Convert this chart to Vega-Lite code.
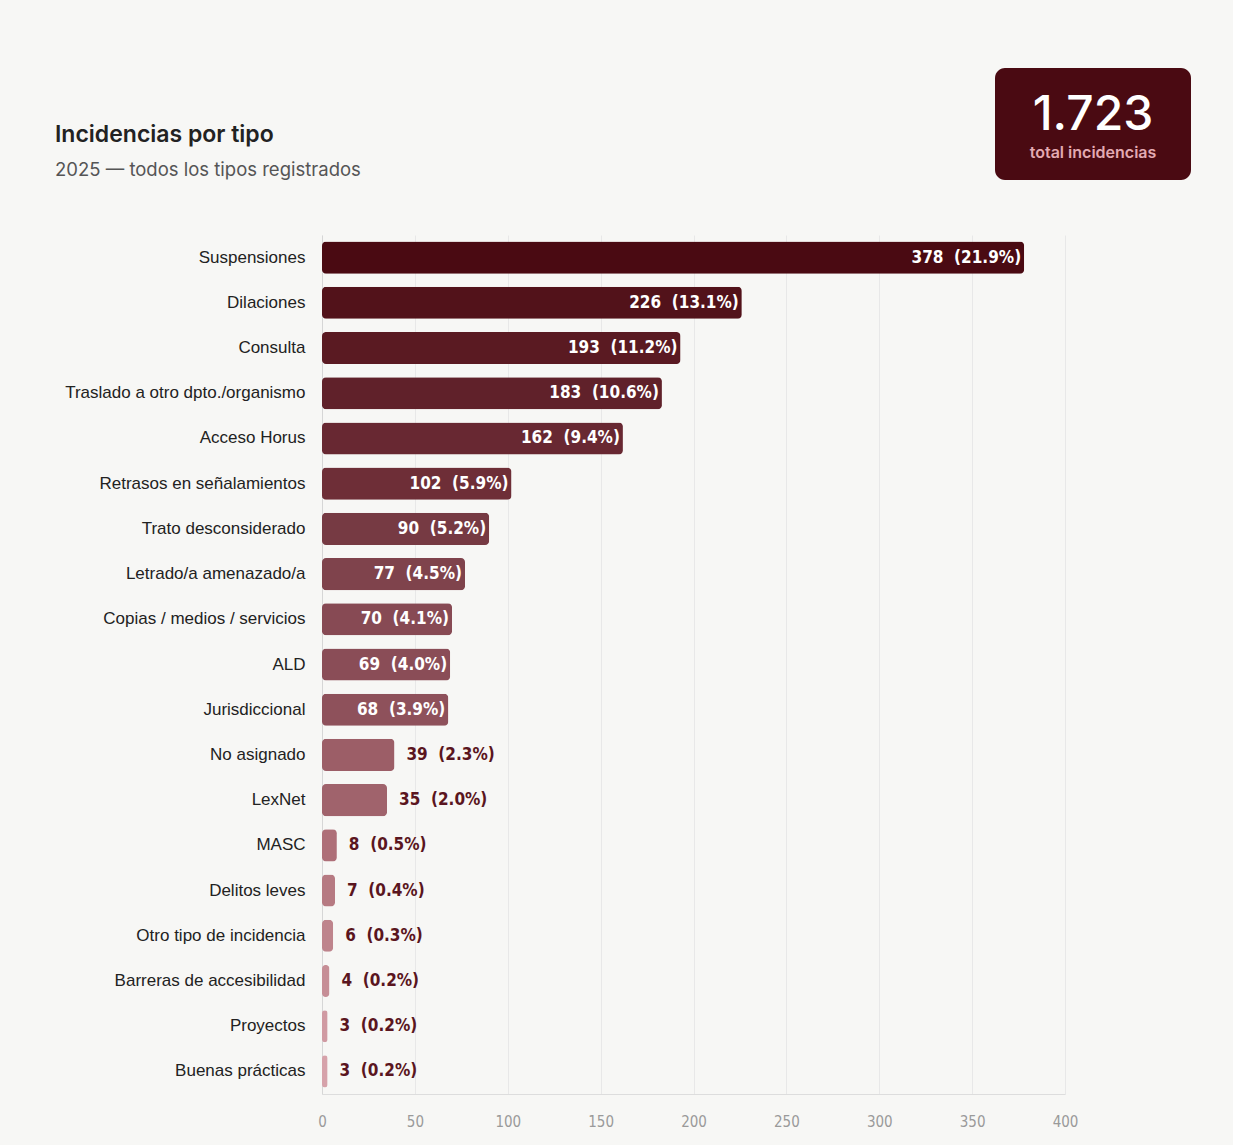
{
  "$schema": "https://vega.github.io/schema/vega-lite/v6.json",
  "background": "#f7f7f5",
  "padding": {"left": 55, "top": 68, "right": 42, "bottom": 16},
  "spacing": 55,
  "datasets": {
    "inc": [
      {"tipo": "Suspensiones", "n": 378},
      {"tipo": "Dilaciones", "n": 226},
      {"tipo": "Consulta", "n": 193},
      {"tipo": "Traslado a otro dpto./organismo", "n": 183},
      {"tipo": "Acceso Horus", "n": 162},
      {"tipo": "Retrasos en señalamientos", "n": 102},
      {"tipo": "Trato desconsiderado", "n": 90},
      {"tipo": "Letrado/a amenazado/a", "n": 77},
      {"tipo": "Copias / medios / servicios", "n": 70},
      {"tipo": "ALD", "n": 69},
      {"tipo": "Jurisdiccional", "n": 68},
      {"tipo": "No asignado", "n": 39},
      {"tipo": "LexNet", "n": 35},
      {"tipo": "MASC", "n": 8},
      {"tipo": "Delitos leves", "n": 7},
      {"tipo": "Otro tipo de incidencia", "n": 6},
      {"tipo": "Barreras de accesibilidad", "n": 4},
      {"tipo": "Proyectos", "n": 3},
      {"tipo": "Buenas prácticas", "n": 3}
    ]
  },
  "config": {
    "view": {"stroke": null},
    "font": "Liberation Sans"
  },
  "vconcat": [
    {
      "width": 869,
      "height": 112,
      "data": {"name": "inc"},
      "transform": [
        {"aggregate": [{"op": "sum", "field": "n", "as": "total"}]},
        {"calculate": "replace(format(datum.total, ','), ',', '.')", "as": "totalLabel"}
      ],
      "layer": [
        {
          "mark": {"type": "rect", "color": "#4a0a12", "cornerRadius": 10},
          "encoding": {
            "x": {"datum": 673, "type": "quantitative", "scale": {"domain": [0, 869], "nice": false, "zero": false}, "axis": null},
            "x2": {"datum": 869},
            "y": {"datum": 0, "type": "quantitative", "scale": {"domain": [0, 112], "nice": false, "reverse": true}, "axis": null},
            "y2": {"datum": 112}
          }
        },
        {
          "mark": {"type": "text", "color": "#ffffff", "font": "Inter", "fontSize": 48, "fontWeight": 500, "align": "center", "baseline": "alphabetic"},
          "encoding": {
            "x": {"datum": 771, "type": "quantitative"},
            "y": {"datum": 62, "type": "quantitative"},
            "text": {"field": "totalLabel"}
          }
        },
        {
          "mark": {"type": "text", "color": "#e3aab2", "font": "Inter", "fontSize": 16, "fontWeight": 600, "align": "center", "baseline": "alphabetic"},
          "encoding": {
            "x": {"datum": 771, "type": "quantitative"},
            "y": {"datum": 90, "type": "quantitative"},
            "text": {"value": "total incidencias"}
          }
        },
        {
          "mark": {"type": "text", "color": "#222222", "font": "Inter", "fontSize": 23, "fontWeight": 600, "align": "left", "baseline": "alphabetic"},
          "encoding": {
            "x": {"datum": -267, "type": "quantitative"},
            "y": {"datum": 74, "type": "quantitative"},
            "text": {"value": "Incidencias por tipo"}
          }
        },
        {
          "mark": {"type": "text", "color": "#555555", "font": "Inter", "fontSize": 18.5, "fontWeight": 400, "align": "left", "baseline": "alphabetic"},
          "encoding": {
            "x": {"datum": -267, "type": "quantitative"},
            "y": {"datum": 108, "type": "quantitative"},
            "text": {"value": "2025 — todos los tipos registrados"}
          }
        }
      ]
    },
    {
      "width": 743,
      "height": 859,
      "data": {"name": "inc"},
      "transform": [
        {"joinaggregate": [{"op": "sum", "field": "n", "as": "total"}]},
        {"calculate": "datum.n + ' \u00a0(' + format(datum.n / datum.total, '.1%') + ')'", "as": "lbl"}
      ],
      "encoding": {
        "y": {
          "field": "tipo",
          "type": "nominal",
          "sort": null,
          "scale": {"paddingInner": 0.29, "paddingOuter": 0.145},
          "axis": {
            "title": null,
            "ticks": false,
            "domain": true,
            "domainColor": "#d6d6d6",
            "labelFont": "Liberation Sans",
            "labelFontSize": 17,
            "labelColor": "#222222",
            "labelPadding": 17,
            "labelLimit": 400
          }
        },
        "x": {
          "field": "n",
          "type": "quantitative",
          "scale": {"domain": [0, 400], "nice": false},
          "axis": {
            "title": null,
            "values": [0, 50, 100, 150, 200, 250, 300, 350, 400],
            "grid": true,
            "gridColor": "#e8e8e8",
            "ticks": false,
            "domainColor": "#dddddd",
            "labelColor": "#9a9a9a",
            "labelFont": "DejaVu Sans Condensed, Liberation Sans",
            "labelFontSize": 15,
            "labelPadding": 20,
            "labelFlush": false
          }
        }
      },
      "layer": [
        {
          "mark": {"type": "bar", "cornerRadius": 4},
          "encoding": {
            "color": {
              "field": "tipo",
              "type": "nominal",
              "legend": null,
              "scale": {
                "domain": ["Suspensiones", "Dilaciones", "Consulta", "Traslado a otro dpto./organismo", "Acceso Horus", "Retrasos en señalamientos", "Trato desconsiderado", "Letrado/a amenazado/a", "Copias / medios / servicios", "ALD", "Jurisdiccional", "No asignado", "LexNet", "MASC", "Delitos leves", "Otro tipo de incidencia", "Barreras de accesibilidad", "Proyectos", "Buenas prácticas"],
                "range": ["#4a0a12", "#52121a", "#5a1a22", "#60212a", "#682832", "#6e2e37", "#763a43", "#7f434c", "#874a54", "#8a4d57", "#8e515b", "#9c5e67", "#a0636c", "#ae6f78", "#b67a82", "#be848c", "#c68e96", "#d09aa2", "#d6a2aa"]
              }
            }
          }
        },
        {
          "transform": [{"filter": "datum.n > 50"}],
          "mark": {"type": "text", "align": "right", "baseline": "middle", "dx": -3, "color": "#ffffff", "font": "DejaVu Sans Condensed, Liberation Sans", "fontSize": 17, "fontWeight": "bold"},
          "encoding": {"text": {"field": "lbl"}}
        },
        {
          "transform": [{"filter": "datum.n <= 50"}],
          "mark": {"type": "text", "align": "left", "baseline": "middle", "dx": 12, "color": "#5a1520", "font": "DejaVu Sans Condensed, Liberation Sans", "fontSize": 17, "fontWeight": "bold"},
          "encoding": {"text": {"field": "lbl"}}
        }
      ]
    }
  ]
}
